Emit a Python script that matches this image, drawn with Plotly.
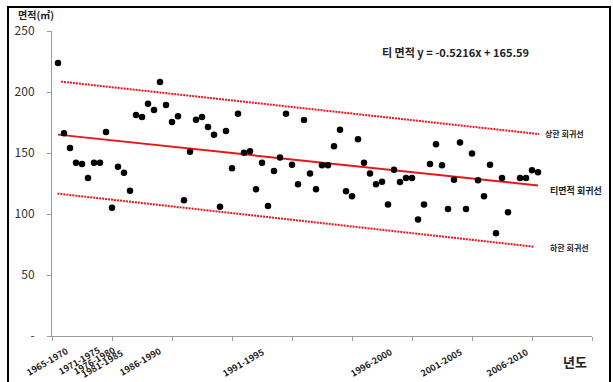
import plotly.graph_objects as go

# ---- data ----
x_index = list(range(1, 82))
area = [223.8, 166.1, 154.1, 142.1, 141.0, 129.5, 142.1, 142.1, 167.2, 105.2,
        138.8, 133.9, 119.1, 181.1, 179.5, 190.4, 185.2, 208.2, 189.3, 175.4,
        180.1, 111.2, 151.1, 177.3, 179.5, 171.3, 165.0, 106.0, 168.0, 137.4,
        182.2, 150.3, 151.4, 120.2, 142.1, 106.6, 135.2, 146.4, 182.2, 140.4,
        124.3, 177.0, 133.1, 120.2, 139.9, 139.9, 155.5, 169.1, 118.6, 114.5,
        161.2, 142.1, 133.1, 124.3, 126.5, 107.7, 136.3, 126.2, 129.5, 129.5,
        95.4, 107.7, 141.0, 157.1, 139.9, 104.1, 128.1, 158.7, 104.1, 149.5,
        127.6, 114.5, 140.4, 84.2, 129.5, 101.4, None, 129.5, 129.5, 135.8,
        134.2]

trend_slope = -0.5216
trend_intercept = 165.59
trend_x = [1, 81]

upper_x = [1.5, 81.2]
upper_y = [208.5, 165.5]
lower_x = [0.9, 80.3]
lower_y = [116.7, 73.2]

period_labels = ["1965-1970", "1971-1975", "1976-1980", "1981-1985", "1986-1990",
                 "1991-1995", "1996-2000", "2001-2005", "2006-2010"]
period_pos = [(47, 361), (79, 360), (94, 360), (102, 363), (140, 361),
              (243, 362), (371, 362), (441, 362), (507, 362)]

y_ticks = [0, 50, 100, 150, 200, 250]
y_ticktext = ["-", "50", "100", "150", "200", "250"]

# ---- layout geometry ----
W, H = 613, 382
L, R, T, B = 52, 592, 31, 336
XMAX, YMAX = 90, 250


def pxp(px):
    return (px - L) / (R - L)


def pyp(py):
    return (B - py) / (B - T)


FONT = "Noto Sans CJK KR"
RED = "#e8161c"

fig = go.Figure()

trend_y = [trend_slope * v + trend_intercept for v in trend_x]

fig.add_trace(go.Scatter(x=upper_x, y=upper_y, mode="lines",
                         line=dict(color=RED, width=2, dash="2px,1px"),
                         showlegend=False, hoverinfo="skip"))
fig.add_trace(go.Scatter(x=lower_x, y=lower_y, mode="lines",
                         line=dict(color=RED, width=2, dash="2px,1px"),
                         showlegend=False, hoverinfo="skip"))
fig.add_trace(go.Scatter(x=trend_x, y=trend_y, mode="lines",
                         line=dict(color=RED, width=2),
                         showlegend=False, hoverinfo="skip"))
fig.add_trace(go.Scatter(x=x_index, y=area, mode="markers",
                         marker=dict(color="black", size=6.5),
                         showlegend=False))

ann = []
for lab, (px, py) in zip(period_labels, period_pos):
    ann.append(dict(x=pxp(px), y=pyp(py), text="<b>%s</b>" % lab,
                    showarrow=False, textangle=-30,
                    font=dict(family=FONT, size=9, color="#222")))

ann += [
    dict(x=pxp(36), y=pyp(15), text="<b>면적(㎡)</b>", showarrow=False,
         font=dict(family=FONT, size=10, color="#222")),
    dict(x=pxp(455), y=pyp(52), text="<b>티 면적 y = -0.5216x + 165.59</b>", showarrow=False,
         font=dict(family=FONT, size=11, color="#222")),
    dict(x=pxp(543), y=pyp(133), text="<b>상한 회귀선</b>", showarrow=False, xanchor="left",
         font=dict(family=FONT, size=8, color="#222")),
    dict(x=pxp(548), y=pyp(190), text="<b>티면적 회귀선</b>", showarrow=False, xanchor="left",
         font=dict(family=FONT, size=9, color="#222")),
    dict(x=pxp(548), y=pyp(247), text="<b>하한 회귀선</b>", showarrow=False, xanchor="left",
         font=dict(family=FONT, size=8, color="#222")),
    dict(x=pxp(575), y=pyp(361), text="<b>년도</b>", showarrow=False,
         font=dict(family=FONT, size=13, color="#222")),
]
for a in ann:
    a["xref"] = "paper"
    a["yref"] = "paper"
    a.setdefault("xanchor", "center")
    a["yanchor"] = "middle"

fig.update_layout(
    width=W, height=H,
    margin=dict(l=L, r=W - R, t=T, b=H - B, pad=0, autoexpand=False),
    paper_bgcolor="white", plot_bgcolor="white",
    annotations=ann,
    xaxis=dict(range=[0, XMAX], showgrid=False, zeroline=False, showline=True,
               linecolor="#9a9a9a", linewidth=1, ticks="outside", ticklen=4,
               tickcolor="#9a9a9a", tickvals=list(range(0, 91, 10)),
               showticklabels=False, fixedrange=True),
    yaxis=dict(range=[0, YMAX], showgrid=False, zeroline=False, showline=True,
               linecolor="#9a9a9a", linewidth=1, ticks="outside", ticklen=4,
               tickcolor="#9a9a9a", tickvals=y_ticks, ticktext=y_ticktext,
               tickfont=dict(family=FONT, size=12, color="#333"), ticklabelstandoff=10,
               fixedrange=True),
    shapes=[dict(type="rect", xref="paper", yref="paper",
                 x0=pxp(8), x1=pxp(610),
                 y0=pyp(420), y1=pyp(7),
                 line=dict(color="black", width=2), fillcolor="rgba(0,0,0,0)",
                 layer="above")],
)
for tr in fig.data:
    tr.cliponaxis = False

fig.write_html("out.html", config={"displayModeBar": False},
               post_script="document.body.style.margin='0';document.body.style.overflow='hidden';")
